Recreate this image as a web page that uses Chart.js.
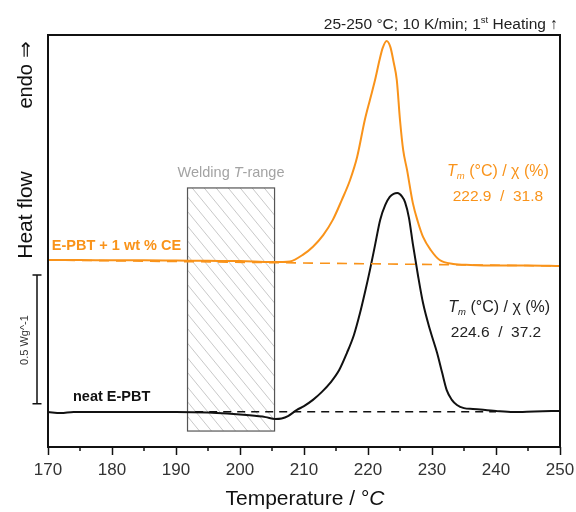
<!DOCTYPE html>
<html>
<head>
<meta charset="utf-8">
<script src="https://cdn.jsdelivr.net/npm/chart.js@4.4.1/dist/chart.umd.min.js"></script>
<style>
  html, body { margin: 0; padding: 0; background: #fff; }
  #wrap { width: 576px; height: 512px; }
</style>
</head>
<body>
<div id="wrap"><canvas id="dscChart" width="576" height="512"></canvas></div>
<script>
// temperatures (°C) and heat flow (W/g, offset stacked)
const tempNeat = [170, 172, 174, 180, 185, 190, 195, 198, 201, 204, 205.5, 206.5, 207.5, 208.9, 210, 211.4, 212.8, 214.1, 215.5, 216.7, 217.8, 218.75, 219.5, 220.3, 221.1, 221.9, 222.7, 223.4, 224, 224.6, 225.3, 225.8, 226.4, 227, 227.8, 228.6, 229.7, 230.8, 231.6, 232.3, 233.1, 233.9, 235, 236.4, 240, 242.7, 246, 250];
const flowNeat = [0.136, 0.132, 0.136, 0.136, 0.136, 0.136, 0.134, 0.130, 0.124, 0.116, 0.109, 0.111, 0.120, 0.144, 0.159, 0.183, 0.214, 0.249, 0.299, 0.365, 0.435, 0.520, 0.598, 0.687, 0.784, 0.882, 0.940, 0.971, 0.983, 0.986, 0.973, 0.950, 0.890, 0.790, 0.668, 0.559, 0.454, 0.365, 0.287, 0.221, 0.183, 0.163, 0.151, 0.148, 0.140, 0.136, 0.138, 0.140];

const tempCE = [170, 175, 180, 185, 190, 195, 200, 205, 206.7, 207.8, 209.8, 211.4, 213, 214.5, 215.9, 217.2, 218.3, 219.5, 220.3, 221.1, 221.8, 222.3, 222.9, 223.5, 224, 224.5, 225, 225.5, 226.1, 227, 227.8, 228.6, 229.8, 231.2, 233.3, 236, 240, 245, 250];
const flowCE = [0.726, 0.726, 0.725, 0.725, 0.724, 0.723, 0.722, 0.718, 0.718, 0.720, 0.746, 0.778, 0.823, 0.882, 0.959, 1.037, 1.126, 1.270, 1.348, 1.425, 1.503, 1.550, 1.577, 1.553, 1.495, 1.425, 1.270, 1.153, 1.076, 0.948, 0.874, 0.816, 0.765, 0.726, 0.711, 0.707, 0.705, 0.705, 0.703];

// integration baselines
const baseNeatT = [193, 240];
const baseNeatY = [0.137, 0.137];
const baseCET = [170, 250];
const baseCEY = [0.726, 0.703];

// welding temperature window
const weldT = [191.8, 205.4];
const weldY = [0.062, 1.006];

const xTicks = [170, 180, 190, 200, 210, 220, 230, 240, 250];

const ORANGE = '#f9931a';
const FONT = '"Liberation Sans", Arial, sans-serif';

function pts(xs, ys) {
    return xs.map((x, i) => ({ x: x, y: ys[i] }));
}

// draws a run of text pieces with different fonts / offsets
function richText(ctx, parts, x, y, align, color) {
    ctx.save();
    ctx.fillStyle = color;
    ctx.textBaseline = 'middle';
    ctx.textAlign = 'left';
    let w = 0;
    parts.forEach(p => { ctx.font = p.font; w += ctx.measureText(p.t).width; });
    let cx = align === 'center' ? x - w / 2 : align === 'right' ? x - w : x;
    parts.forEach(p => {
        ctx.font = p.font;
        ctx.fillText(p.t, cx, y + (p.dy || 0));
        cx += ctx.measureText(p.t).width;
    });
    ctx.restore();
}

const weldBox = {
    id: 'weldBox',
    beforeDatasetsDraw(chart) {
        const ctx = chart.ctx, sx = chart.scales.x, sy = chart.scales.y;
        const x0 = sx.getPixelForValue(weldT[0]), x1 = sx.getPixelForValue(weldT[1]);
        const y0 = sy.getPixelForValue(weldY[1]), y1 = sy.getPixelForValue(weldY[0]);
        ctx.save();
        ctx.beginPath();
        ctx.rect(x0, y0, x1 - x0, y1 - y0);
        ctx.clip();
        ctx.strokeStyle = '#c2c2c2';
        ctx.lineWidth = 0.9;
        const h = y1 - y0;
        const run = h * 0.82;
        for (let k = x0 - run; k < x1; k += 12) {
            ctx.beginPath();
            ctx.moveTo(k, y0);
            ctx.lineTo(k + run, y1);
            ctx.stroke();
        }
        ctx.restore();
        ctx.save();
        ctx.strokeStyle = '#555';
        ctx.lineWidth = 1.2;
        ctx.strokeRect(x0, y0, x1 - x0, y1 - y0);
        ctx.restore();
    }
};

const decor = {
    id: 'decor',
    afterDraw(chart) {
        const ctx = chart.ctx, a = chart.chartArea;
        const sx = chart.scales.x, sy = chart.scales.y;
        const X = v => sx.getPixelForValue(v), Y = v => sy.getPixelForValue(v);

        // frame
        ctx.save();
        ctx.strokeStyle = '#111';
        ctx.lineWidth = 2;
        ctx.strokeRect(a.left, a.top, a.right - a.left, a.bottom - a.top);
        // minor ticks
        ctx.lineWidth = 1.5;
        for (let t = 175; t < 250; t += 10) {
            ctx.beginPath();
            ctx.moveTo(X(t), a.bottom);
            ctx.lineTo(X(t), a.bottom + 4);
            ctx.stroke();
        }
        // 0.5 W/g scale bar
        const bx = 37, byTop = Y(0.668), byBot = Y(0.168);
        ctx.beginPath();
        ctx.moveTo(bx, byTop); ctx.lineTo(bx, byBot);
        ctx.moveTo(bx - 4.5, byTop); ctx.lineTo(bx + 4.5, byTop);
        ctx.moveTo(bx - 4.5, byBot); ctx.lineTo(bx + 4.5, byBot);
        ctx.stroke();
        ctx.restore();

        // rotated y labels
        ctx.save();
        ctx.translate(26, 75);
        ctx.rotate(-Math.PI / 2);
        richText(ctx, [{ t: 'endo ⇒', font: '20px ' + FONT }], 0, 0, 'center', '#111');
        ctx.restore();
        ctx.save();
        ctx.translate(26, 215);
        ctx.rotate(-Math.PI / 2);
        richText(ctx, [{ t: 'Heat flow', font: '21px ' + FONT }], 0, 0, 'center', '#111');
        ctx.restore();
        ctx.save();
        ctx.translate(25, 340);
        ctx.rotate(-Math.PI / 2);
        richText(ctx, [{ t: '0.5 Wg^-1', font: '11px ' + FONT }], 0, 0, 'center', '#333');
        ctx.restore();

        // top note
        richText(ctx, [
            { t: '25-250 °C; 10 K/min; 1', font: '15.5px ' + FONT },
            { t: 'st', font: '9.5px ' + FONT, dy: -5 },
            { t: ' Heating ↑', font: '15.5px ' + FONT }
        ], 558, 25, 'right', '#222');

        // x title
        richText(ctx, [
            { t: 'Temperature / °', font: '21px ' + FONT },
            { t: 'C', font: 'italic 21px ' + FONT }
        ], 305, 499, 'center', '#111');

        // curve labels
        richText(ctx, [{ t: 'E-PBT + 1 wt % CE', font: 'bold 14.5px ' + FONT }], X(170.6), Y(0.781), 'left', ORANGE);
        richText(ctx, [{ t: 'neat E-PBT', font: 'bold 14.5px ' + FONT }], X(173.9), Y(0.194), 'left', '#111');
        richText(ctx, [
            { t: 'Welding ', font: '14.5px ' + FONT },
            { t: 'T', font: 'italic 14.5px ' + FONT },
            { t: '-range', font: '14.5px ' + FONT }
        ], X(198.6), Y(1.064), 'center', '#a3a3a3');

        const tmParts = [
            { t: 'T', font: 'italic 16px ' + FONT },
            { t: 'm', font: 'italic 9.5px ' + FONT, dy: 4 },
            { t: ' (°C) / χ (%)', font: '16px ' + FONT }
        ];
        richText(ctx, tmParts, X(240.3), Y(1.068), 'center', ORANGE);
        richText(ctx, [{ t: '222.9  /  31.8', font: '15.5px ' + FONT }], X(240.3), Y(0.971), 'center', ORANGE);
        richText(ctx, tmParts, X(240.5), Y(0.540), 'center', '#222');
        richText(ctx, [{ t: '224.6  /  37.2', font: '15.5px ' + FONT }], X(240.0), Y(0.443), 'center', '#222');
    }
};

const ctx = document.getElementById('dscChart').getContext('2d');

new Chart(ctx, {
    type: 'line',
    data: {
        datasets: [{
            label: 'neat baseline',
            data: pts(baseNeatT, baseNeatY),
            borderColor: '#111',
            borderWidth: 1.6,
            borderDash: [8, 6],
            pointRadius: 0
        }, {
            label: 'CE baseline',
            data: pts(baseCET, baseCEY),
            borderColor: ORANGE,
            borderWidth: 1.6,
            borderDash: [10, 7],
            pointRadius: 0
        }, {
            label: 'neat E-PBT',
            data: pts(tempNeat, flowNeat),
            borderColor: '#111',
            borderWidth: 2,
            pointRadius: 0,
            cubicInterpolationMode: 'monotone'
        }, {
            label: 'E-PBT + 1 wt % CE',
            data: pts(tempCE, flowCE),
            borderColor: ORANGE,
            borderWidth: 2,
            pointRadius: 0,
            cubicInterpolationMode: 'monotone'
        }]
    },
    options: {
        responsive: false,
        animation: false,
        layout: { padding: { left: 48, right: 16, top: 35, bottom: 0 } },
        plugins: {
            legend: { display: false },
            tooltip: { enabled: false }
        },
        scales: {
            x: {
                type: 'linear',
                min: 170,
                max: 250,
                afterBuildTicks: scale => { scale.ticks = xTicks.map(v => ({ value: v })); },
                afterFit: scale => {
                    scale.height = 65;
                    scale.paddingLeft = 0;
                    scale.paddingRight = 0;
                },
                grid: {
                    drawOnChartArea: false,
                    drawTicks: true,
                    tickLength: 8,
                    tickWidth: 1.5,
                    tickColor: '#111'
                },
                border: { display: false },
                ticks: {
                    padding: 5,
                    color: '#333',
                    font: { family: FONT, size: 17 },
                    maxRotation: 0
                }
            },
            y: {
                type: 'linear',
                display: false,
                min: 0,
                max: 1.6
            }
        }
    },
    plugins: [weldBox, decor]
});
</script>
</body>
</html>
